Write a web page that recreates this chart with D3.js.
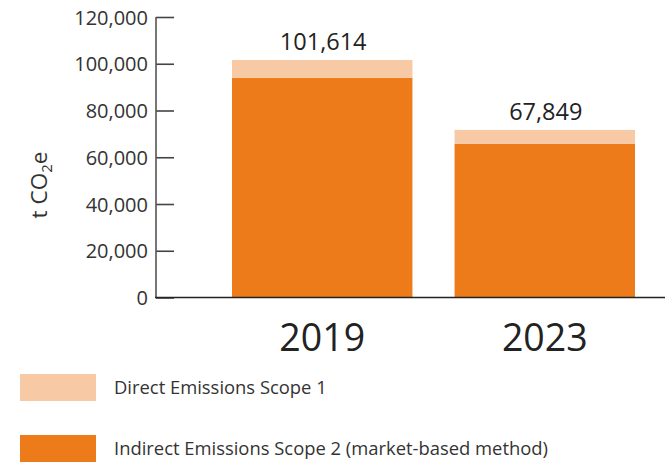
<!DOCTYPE html>
<html><head><meta charset="utf-8">
<script src="https://cdn.jsdelivr.net/npm/d3@7"></script>
<style>body{margin:0;background:#fff}svg{display:block}text{font-family:"Open Sans","Noto Sans",sans-serif}</style>
</head><body><svg id="c" width="665" height="463"></svg>
<script>
const years = ["2019", "2023"];
const scope1 = [7600, 6000];
const scope2 = [94000, 65700];
const totalLabels = ["101,614", "67,849"];
const yTicks = [0, 20000, 40000, 60000, 80000, 100000, 120000];
const legendLabels = ["Direct Emissions Scope 1", "Indirect Emissions Scope 2 (market-based method)"];
const colors = ["#F8C9A5", "#EE7B1A"];

const svg = d3.select("#c");
const y = d3.scaleLinear().domain([0, 120000]).range([297.5, 17]);
const x = d3.scaleBand().domain(years).range([232, 635]).paddingInner(42/222).paddingOuter(0);

// bars
years.forEach((yr, i) => {
  const b = svg.append("g");
  b.append("rect").attr("x", x(yr)).attr("width", x.bandwidth())
    .attr("y", y(scope2[i])).attr("height", y(0) - y(scope2[i])).attr("fill", colors[1]);
  b.append("rect").attr("x", x(yr)).attr("width", x.bandwidth())
    .attr("y", y(scope1[i] + scope2[i])).attr("height", y(0) - y(scope1[i])).attr("fill", colors[0]);
  svg.append("text").attr("x", x(yr) + x.bandwidth()/2 + 1).attr("y", y(scope1[i] + scope2[i]) - 10)
    .attr("text-anchor", "middle").attr("font-size", 23.5).attr("fill", "#222").text(totalLabels[i]);
  svg.append("text").attr("x", x(yr) + x.bandwidth()/2).attr("y", 351)
    .attr("text-anchor", "middle").attr("font-size", 37.5).attr("fill", "#222").text(yr);
});

// y axis
const ya = svg.append("g").attr("transform", "translate(156,0)")
  .call(d3.axisRight(y).tickValues(yTicks).tickSize(18).tickFormat(d3.format(",")));
ya.select(".domain").remove();
ya.selectAll(".tick line").attr("stroke", "#444").attr("stroke-width", 1.6);
ya.selectAll(".tick text").attr("x", -8).attr("text-anchor", "end").attr("dy", "0.35em")
  .attr("font-size", 20).attr("fill", "#333").style("font-family", '"Open Sans","Noto Sans",sans-serif');
svg.append("line").attr("x1", 156).attr("x2", 156).attr("y1", 17).attr("y2", 298)
  .attr("stroke", "#555").attr("stroke-width", 1.6);
svg.append("line").attr("x1", 155).attr("x2", 665).attr("y1", y(0)).attr("y2", y(0))
  .attr("stroke", "#222").attr("stroke-width", 1.6);

// y title
const t = svg.append("text").attr("transform", "translate(47,185) rotate(-90)")
  .attr("text-anchor", "middle").attr("font-size", 22.5).attr("fill", "#333");
t.append("tspan").text("t CO");
t.append("tspan").attr("font-size", 15).attr("dy", 5).text("2");
t.append("tspan").attr("dy", -5).text("e");

// legend
legendLabels.forEach((l, i) => {
  const yy = 374 + i * 61;
  svg.append("rect").attr("x", 20).attr("y", yy).attr("width", 76).attr("height", 27).attr("fill", colors[i]);
  svg.append("text").attr("x", 114).attr("y", yy + 20).attr("font-size", 18.4).attr("fill", "#333").text(l);
});
</script></body></html>
